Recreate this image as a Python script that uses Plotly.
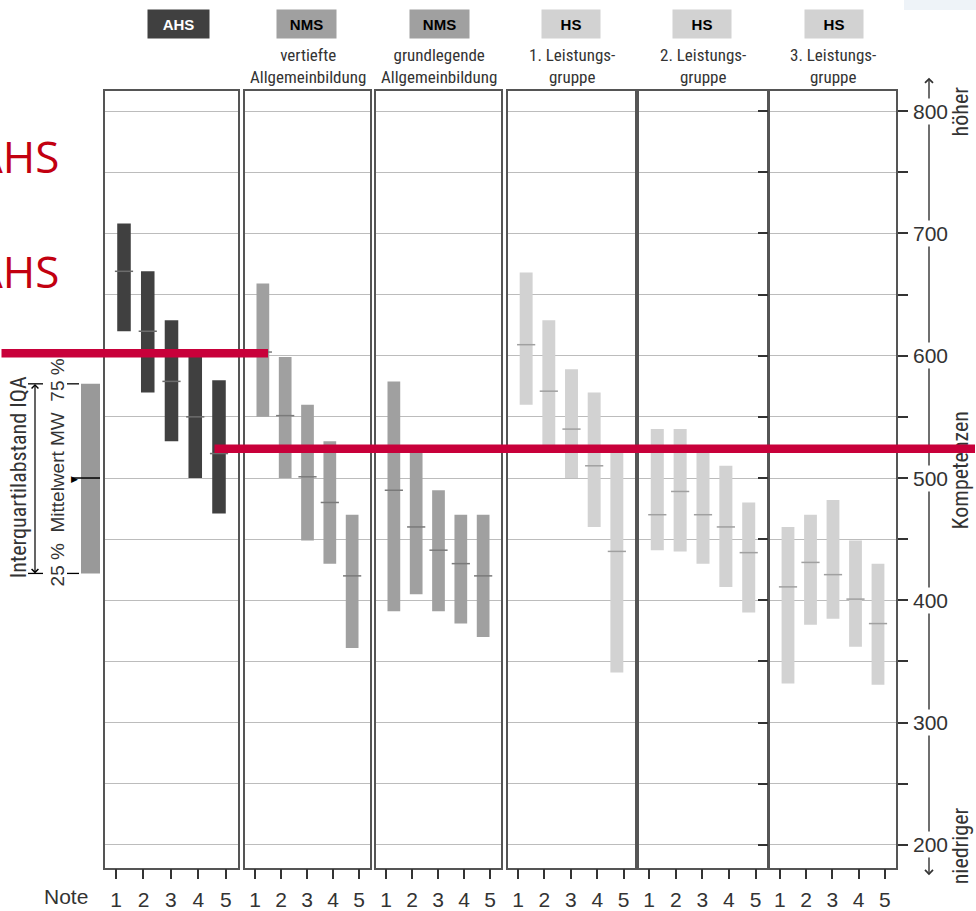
import plotly.graph_objects as go

# ---------------- data ----------------
notes = [1, 2, 3, 4, 5]
note_labels = ["1", "2", "3", "4", "5"]
panel_types = ["AHS", "NMS", "NMS", "HS", "HS", "HS"]
panel_subtitles = ["", "vertiefte<br>Allgemeinbildung", "grundlegende<br>Allgemeinbildung",
                   "1. Leistungs-<br>gruppe", "2. Leistungs-<br>gruppe", "3. Leistungs-<br>gruppe"]

ahs_q25 = [620, 570, 530, 500, 471]
ahs_mean = [669, 620, 579, 550, 520]
ahs_q75 = [708, 669, 629, 600, 580]

nms_v_q25 = [550, 500, 449, 430, 361]
nms_v_mean = [603, 551, 501, 480, 420]
nms_v_q75 = [659, 599, 560, 530, 470]

nms_g_q25 = [391, 405, 391, 381, 370]
nms_g_mean = [490, 460, 441, 430, 420]
nms_g_q75 = [579, 525, 490, 470, 470]

hs1_q25 = [560, 527, 500, 460, 341]
hs1_mean = [609, 571, 540, 510, 440]
hs1_q75 = [668, 629, 589, 570, 527]

hs2_q25 = [441, 440, 430, 411, 390]
hs2_mean = [470, 489, 470, 460, 439]
hs2_q75 = [540, 540, 527, 510, 480]

hs3_q25 = [332, 380, 385, 362, 331]
hs3_mean = [411, 431, 421, 401, 381]
hs3_q75 = [460, 470, 482, 449, 430]

y_tick_values = [200, 300, 400, 500, 600, 700, 800]
legend_q25 = 422
legend_mean = 500
legend_q75 = 577
highlight_levels = [602, 524]

# ---------------- styling / layout ----------------
W, H = 976, 911
def px(x):
    return x / W
def py(y):
    return 1 - y / H

bar_col = {"AHS": "#404040", "NMS": "#a0a0a0", "HS": "#d2d2d2"}
med_col = {"AHS": "#6c6c6c", "NMS": "#7a7a7a", "HS": "#a0a0a0"}
box_txt = {"AHS": "white", "NMS": "black", "HS": "black"}
border = "#555555"
grid = "#bcbcbc"
txt = "#333333"
narrow = "Liberation Sans Narrow, Roboto Condensed, Roboto, sans-serif"
sans = "Liberation Sans, Arial, sans-serif"

panel_px = [(105, 238), (245, 370), (376, 501), (508, 635), (639, 767), (770, 896)]
tick_ranges = [(0.6, 5.44), (0.615, 5.42), (0.615, 5.42), (0.62, 5.43), (0.62, 5.43), (0.62, 5.43)]
bar_range = (0.2, 5.8)
box_cx = [178.5, 306.5, 439.5, 570.5, 702, 834]
box_w = [61, 59, 59, 58, 58, 58]

series = [(ahs_q25, ahs_mean, ahs_q75), (nms_v_q25, nms_v_mean, nms_v_q75),
          (nms_g_q25, nms_g_mean, nms_g_q75), (hs1_q25, hs1_mean, hs1_q75),
          (hs2_q25, hs2_mean, hs2_q75), (hs3_q25, hs3_mean, hs3_q75)]

fig = go.Figure()
layout_axes = {}
y_dom = [py(873), py(92)]

for i, (q25, mean, q75) in enumerate(series):
    typ = panel_types[i]
    xa = "x" if i == 0 else f"x{i + 1}"
    xt = f"x{i + 7}"
    fig.add_trace(go.Bar(x=notes, y=[b - a for a, b in zip(q25, q75)], base=q25, width=0.57,
                         marker=dict(color=bar_col[typ], line=dict(width=0)),
                         xaxis=xa, yaxis="y", hoverinfo="skip", showlegend=False))
    fig.add_trace(go.Scatter(x=notes, y=mean, mode="markers",
                             marker=dict(symbol="line-ew", size=13,
                                         line=dict(width=1.5, color=med_col[typ])),
                             xaxis=xa, yaxis="y", hoverinfo="skip", showlegend=False))
    fig.add_trace(go.Scatter(x=notes, y=mean, mode="markers", marker=dict(opacity=0),
                             xaxis=xt, yaxis="y", hoverinfo="skip", showlegend=False))
    l, r = panel_px[i]
    key = "xaxis" if i == 0 else f"xaxis{i + 1}"
    layout_axes[key] = dict(domain=[px(l), px(r)], range=list(bar_range), anchor="y",
                            showgrid=False, zeroline=False, showline=True, mirror=True,
                            linecolor=border, linewidth=2, ticks="", showticklabels=False)
    layout_axes[f"xaxis{i + 7}"] = dict(overlaying=xa, anchor="y", range=list(tick_ranges[i]),
                                        tickmode="array", tickvals=notes, ticktext=note_labels,
                                        ticks="outside", ticklen=10, tickwidth=1.5, tickcolor=txt,
                                        showgrid=False, zeroline=False, showline=False,
                                        tickfont=dict(family=sans, size=21, color=txt),
                                        ticklabelstandoff=3)

fig.update_layout(
    width=W, height=H, margin=dict(l=0, r=0, t=0, b=0),
    paper_bgcolor="white", plot_bgcolor="white", barmode="overlay",
    yaxis=dict(range=[181, 816], domain=y_dom, anchor="x6", side="right",
               showline=True, mirror="all", linecolor=border, linewidth=2,
               showgrid=True, gridcolor=grid, gridwidth=1.3, zeroline=False,
               tickmode="array", tickvals=y_tick_values, ticks="outside", ticklen=10,
               tickwidth=1.5, tickcolor=txt, showticklabels=False,
               minor=dict(dtick=50, tick0=0, ticks="outside", ticklen=10, tickwidth=1.5,
                          tickcolor=txt, showgrid=True, gridcolor=grid, gridwidth=1.3)),
    **layout_axes,
)

shapes = []
annotations = []

def note(**kw):
    kw.setdefault("xanchor", "center")
    kw.setdefault("yanchor", "middle")
    kw.setdefault("xref", "paper")
    kw.setdefault("yref", "paper")
    annotations.append(kw)

# light decoration in top-right corner
shapes.append(dict(type="rect", xref="paper", yref="paper", x0=px(904), x1=1, y0=py(10), y1=1,
                   fillcolor="#eef3f8", line=dict(width=0), layer="below"))

# header boxes and subtitles
for i in range(6):
    typ = panel_types[i]
    note(x=px(box_cx[i]), y=py(24), text=f"<b>{typ}</b>", showarrow=False,
         bgcolor=bar_col[typ], width=box_w[i], height=28, borderpad=0,
         font=dict(family=sans, size=15, color=box_txt[typ]))
    if panel_subtitles[i]:
        note(x=px((panel_px[i][0] + panel_px[i][1]) / 2), y=py(66), text=panel_subtitles[i],
             showarrow=False, font=dict(family=narrow, size=17, color=txt))

# red "AHS" texts (cut off at left edge)
for yc in [157, 272]:
    note(x=px(61), y=py(yc), xanchor="right", text="AHS", showarrow=False,
         font=dict(family="Open Sans, sans-serif", size=44, color="#c20010"))

# legend: bar, mean line, markers
shapes.append(dict(type="rect", xref="paper", yref="y", x0=px(81), x1=px(100),
                   y0=legend_q25, y1=legend_q75, fillcolor="#999999", line=dict(width=0)))
shapes.append(dict(type="line", xref="paper", yref="y", x0=px(73), x1=px(100),
                   y0=legend_mean, y1=legend_mean, line=dict(color="black", width=1.5)))
for lv in [legend_q25, legend_q75]:
    shapes.append(dict(type="line", xref="paper", yref="y", x0=px(67), x1=px(79),
                       y0=lv, y1=lv, line=dict(color="black", width=1.3)))
    shapes.append(dict(type="line", xref="paper", yref="y", x0=px(28), x1=px(43),
                       y0=lv, y1=lv, line=dict(color="black", width=1.3)))
note(x=px(35), y=legend_q25, yref="y", text="", showarrow=True, ax=0, ay=-191,
     arrowside="end+start", arrowhead=4, arrowsize=1.1, arrowwidth=1.2,
     arrowcolor="black", standoff=0, startstandoff=0)
note(x=px(74), y=legend_mean, yref="y", text="▶", showarrow=False,
     font=dict(size=9, color="black"))
note(x=px(57), y=py(475), textangle=-90, text="25 %  Mittelwert MW  75 %", showarrow=False,
     font=dict(family=sans, size=19, color=txt))
note(x=px(18), y=py(480), textangle=-90, text="Interquartilabstand IQA", showarrow=False,
     font=dict(family=narrow, size=22, color=txt))

# right scale: arrow line and labels
note(x=px(929), y=py(880), text="", showarrow=True, ax=0, ay=-799, arrowside="end+start",
     arrowhead=4, arrowsize=1.1, arrowwidth=1.4, arrowcolor=txt, standoff=0, startstandoff=0)
for v in y_tick_values:
    note(x=px(930), y=v, yref="y", text=str(v), showarrow=False, bgcolor="white", borderpad=1,
         font=dict(family=sans, size=21, color=txt))
for label, yc in [("höher", 112), ("Kompetenzen", 473), ("niedriger", 851)]:
    note(x=px(960), y=py(yc), textangle=-90, text=label, showarrow=False,
         font=dict(family=narrow, size=22, color=txt))

note(x=px(66), y=py(901), text="Note", showarrow=False,
     font=dict(family=sans, size=21, color=txt))

# red highlight lines (drawn last, on top)
note(x=px(268), y=highlight_levels[0], yref="y", text="", showarrow=True, ax=-268, ay=0,
     arrowhead=0, arrowwidth=8.5, arrowcolor="#c8003a", standoff=0, startstandoff=0)
note(x=1.0, y=highlight_levels[1], yref="y", text="", showarrow=True, ax=-(976 - 213), ay=0,
     arrowhead=0, arrowwidth=8.5, arrowcolor="#c8003a", standoff=0, startstandoff=0)

fig.update_layout(shapes=shapes, annotations=annotations)

fig.write_html("out.html", config={"displayModeBar": False},
               post_script="document.body.style.margin='0';")
